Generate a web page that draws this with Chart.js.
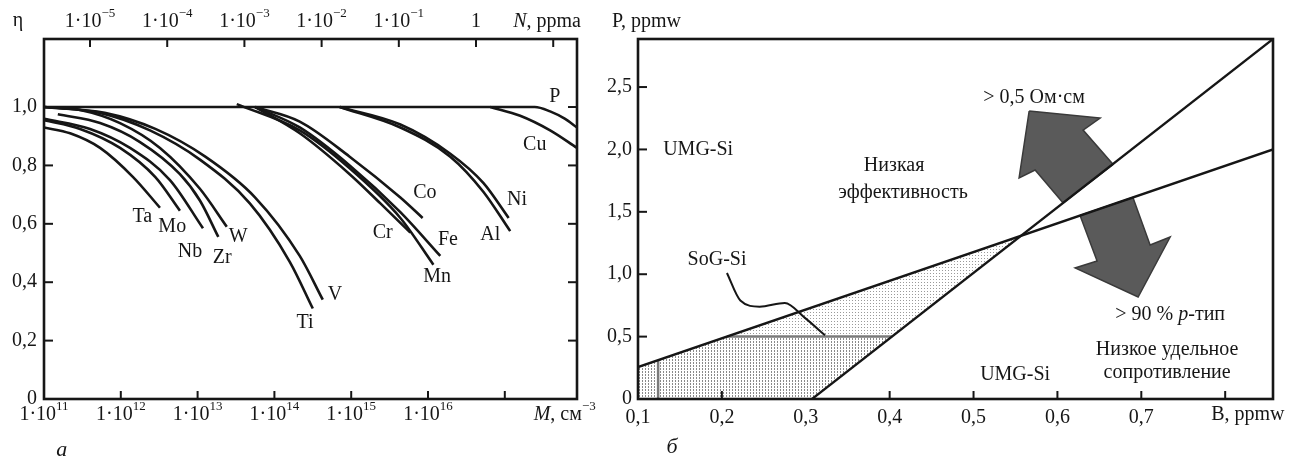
<!DOCTYPE html>
<html><head><meta charset="utf-8">
<script src="https://cdn.jsdelivr.net/npm/chart.js@4/dist/chart.umd.min.js"></script>
<style>
html,body{margin:0;padding:0;background:#fff;width:1309px;height:457px;overflow:hidden;}
#ca{position:absolute;left:0;top:0;}
#cb{position:absolute;left:600px;top:0;}
</style></head><body>
<canvas id="ca" width="620" height="457"></canvas>
<canvas id="cb" width="709" height="457"></canvas>
<script>
const FONT = '"Liberation Serif","DejaVu Serif","Times New Roman",serif';
const INK = '#161616';

// ---------- Panel a : x = log10(M, cm^-3), y = efficiency eta ----------
const mTickExp = [11, 12, 13, 14, 15, 16, 17];
const mTickLabels = ['11', '12', '13', '14', '15', '16', ''];
const nTickExp = [-5, -4, -3, -2, -1, 0, 1];
const nTickLabels = ['−5', '−4', '−3', '−2', '−1', '', ''];
const etaTicks = [0, 0.2, 0.4, 0.6, 0.8, 1.0];

const taLogM = [11.00, 11.34, 11.73, 12.16, 12.51];        const taEta = [0.93, 0.91, 0.86, 0.76, 0.655];
const moLogM = [11.00, 11.47, 11.99, 12.45, 12.77];        const moEta = [0.955, 0.925, 0.86, 0.76, 0.645];
const nbLogM = [11.00, 11.60, 12.12, 12.64, 13.07];        const nbEta = [0.96, 0.925, 0.86, 0.75, 0.585];
const zrLogM = [11.18, 11.73, 12.25, 12.77, 13.03, 13.27]; const zrEta = [0.975, 0.945, 0.88, 0.77, 0.68, 0.555];
const wLogM  = [11.00, 11.47, 11.99, 12.51, 13.03, 13.38]; const wEta  = [1.0, 0.99, 0.945, 0.86, 0.72, 0.59];
const tiLogM = [11.00, 11.73, 12.38, 13.03, 13.68, 14.20, 14.50]; const tiEta = [1.0, 0.98, 0.92, 0.82, 0.67, 0.47, 0.31];
const vLogM  = [11.00, 11.79, 12.45, 13.10, 13.75, 14.33, 14.63]; const vEta  = [1.0, 0.98, 0.925, 0.83, 0.69, 0.49, 0.34];
const coLogM = [13.75, 14.33, 14.98, 15.64, 15.93];        const coEta = [1.0, 0.95, 0.83, 0.69, 0.62];
const feLogM = [13.75, 14.33, 14.98, 15.64, 16.16];        const feEta = [1.0, 0.93, 0.80, 0.64, 0.49];
const mnLogM = [13.51, 14.33, 14.98, 15.64, 16.07];        const mnEta = [1.01, 0.92, 0.79, 0.62, 0.46];
const crLogM = [13.75, 14.33, 14.98, 15.38, 15.77];        const crEta = [1.0, 0.91, 0.77, 0.67, 0.57];
const niLogM = [14.85, 15.64, 16.29, 16.72, 17.05];        const niEta = [1.0, 0.94, 0.84, 0.74, 0.62];
const alLogM = [14.85, 15.64, 16.29, 16.72, 17.07];        const alEta = [1.0, 0.93, 0.83, 0.71, 0.575];
const pLogM  = [11.00, 17.39, 17.59, 17.78, 17.94];        const pEta  = [1.0, 1.0, 0.985, 0.96, 0.93];
const cuLogM = [16.81, 17.20, 17.59, 17.94];               const cuEta = [1.0, 0.97, 0.92, 0.86];

const elemNames = ['Ta', 'Mo', 'Nb', 'Zr', 'W', 'Ti', 'V', 'Co', 'Cr', 'Fe', 'Mn', 'Ni', 'Al', 'P', 'Cu'];
const elemLabelLogM = [12.28, 12.67, 12.90, 13.32, 13.53, 14.40, 14.79, 15.96, 15.41, 16.26, 16.12, 17.16, 16.81, 17.65, 17.39];
const elemLabelEta  = [0.623, 0.589, 0.503, 0.483, 0.555, 0.26, 0.356, 0.705, 0.568, 0.545, 0.418, 0.682, 0.562, 1.034, 0.87];

// ---------- Panel b : x = B, ppmw ; y = P, ppmw ----------
const bTicks = [0.1, 0.2, 0.3, 0.4, 0.5, 0.6, 0.7];
const bMarks = [0.2, 0.4, 0.5, 0.6, 0.7, 0.8];
const pTicks = [0, 0.5, 1.0, 1.5, 2.0, 2.5];
const steepB = [0.3075, 0.857];   const steepP = [0, 2.885];
const shallowB = [0.1, 0.857];    const shallowP = [0.256, 2.0];
const sogUpperB = [0.206, 0.5565, 0.4027, 0.206]; const sogUpperP = [0.5, 1.307, 0.5, 0.5];
const sogLowerB = [0.1, 0.1, 0.206, 0.4027, 0.3075, 0.1]; const sogLowerP = [0, 0.256, 0.5, 0.5, 0, 0];
const limitHB = [0.206, 0.4027];  const limitHP = [0.5, 0.5];
const limitVB = [0.124, 0.124];   const limitVP = [0, 0.311];
const leaderB = [0.206, 0.222, 0.245, 0.275, 0.299, 0.323]; const leaderP = [1.01, 0.79, 0.74, 0.77, 0.65, 0.51];
const arrowUpB = [0.5663, 0.6509, 0.6306, 0.6664, 0.6068, 0.5734, 0.5543, 0.5663];
const arrowUpP = [2.308, 2.252, 2.155, 1.880, 1.571, 1.835, 1.771, 2.308];
const arrowDnB = [0.627, 0.690, 0.7105, 0.7344, 0.6962, 0.6211, 0.6473, 0.627];
const arrowDnP = [1.470, 1.615, 1.234, 1.298, 0.817, 1.050, 1.106, 1.470];

const zip = (xs, ys) => xs.map((x, i) => ({x: x, y: ys[i]}));

function fontFor(s, size) {
  const sz = s.sup ? Math.round(size * 0.65) : size;
  return (s.italic ? 'italic ' : '') + sz + 'px ' + FONT;
}
function drawRich(ctx, segs, x, y, align, size) {
  let total = 0;
  const ws = segs.map(s => { ctx.font = fontFor(s, size); const w = ctx.measureText(s.t).width; total += w; return w; });
  let cx = align === 'center' ? x - total / 2 : (align === 'right' ? x - total : x);
  ctx.textAlign = 'left'; ctx.textBaseline = 'middle';
  segs.forEach((s, i) => {
    ctx.font = fontFor(s, size);
    ctx.fillText(s.t, cx, y + (s.sup ? -size * 0.42 : 0));
    cx += ws[i];
  });
}

const framePlugin = {
  id: 'framePlugin',
  afterDraw(chart, args, opts) {
    const ctx = chart.ctx, a = chart.chartArea;
    ctx.save();
    ctx.strokeStyle = INK; ctx.lineWidth = 2.6; ctx.lineJoin = 'miter';
    ctx.strokeRect(a.left, a.top, a.right - a.left, a.bottom - a.top);
    ctx.lineWidth = 2;
    (opts.marks || []).forEach(m => {
      const s = chart.scales[m.scale];
      m.values.forEach(v => {
        const p = s.getPixelForValue(v);
        ctx.beginPath();
        if (m.side === 'bottom') { ctx.moveTo(p, a.bottom); ctx.lineTo(p, a.bottom - m.len); }
        if (m.side === 'top') { ctx.moveTo(p, a.top); ctx.lineTo(p, a.top + m.len); }
        if (m.side === 'left') { ctx.moveTo(a.left, p); ctx.lineTo(a.left + m.len, p); }
        if (m.side === 'right') { ctx.moveTo(a.right, p); ctx.lineTo(a.right - m.len, p); }
        ctx.stroke();
      });
    });
    ctx.fillStyle = INK;
    (opts.texts || []).forEach(t => {
      const sx = chart.scales[t.sx || 'x'], sy = chart.scales[t.sy || 'y'];
      const x = t.px !== undefined ? t.px : sx.getPixelForValue(t.x);
      const y = t.py !== undefined ? t.py : sy.getPixelForValue(t.y);
      drawRich(ctx, t.segs, x, y, t.align || 'center', t.size || 20);
    });
    if (opts.extra) opts.extra(chart, ctx);
    ctx.restore();
  }
};

// ---------------- Chart a ----------------
const curveSets = [
  [taLogM, taEta], [moLogM, moEta], [nbLogM, nbEta], [zrLogM, zrEta], [wLogM, wEta],
  [tiLogM, tiEta], [vLogM, vEta], [coLogM, coEta], [feLogM, feEta], [mnLogM, mnEta],
  [crLogM, crEta], [niLogM, niEta], [alLogM, alEta], [pLogM, pEta], [cuLogM, cuEta]
];
const dsA = curveSets.map((c, i) => ({
  label: elemNames[i], data: zip(c[0], c[1]), borderColor: INK, borderWidth: 2.6,
  pointRadius: 0, fill: false, cubicInterpolationMode: 'monotone'
}));

const textsA = elemNames.map((n, i) => ({segs: [{t: n}], x: elemLabelLogM[i], y: elemLabelEta[i]}));

new Chart(document.getElementById('ca'), {
  type: 'line',
  data: {datasets: dsA},
  options: {
    responsive: false, animation: false, devicePixelRatio: 1,
    layout: {padding: {left: 0, right: 43, top: 0, bottom: 0}},
    plugins: {
      legend: {display: false}, tooltip: {enabled: false},
      framePlugin: {
        marks: [
          {scale: 'x', side: 'bottom', values: mTickExp.slice(1), len: 8},
          {scale: 'x2', side: 'top', values: nTickExp, len: 8},
          {scale: 'y', side: 'left', values: etaTicks.slice(1), len: 9},
          {scale: 'y', side: 'right', values: etaTicks.slice(1), len: 9}
        ],
        texts: textsA,
        extra: (chart, ctx) => {
          const a = chart.chartArea, sx = chart.scales.x, sx2 = chart.scales.x2;
          mTickExp.forEach((e, i) => {
            if (mTickLabels[i]) drawRich(ctx, [{t: '1·10'}, {t: mTickLabels[i], sup: true}], sx.getPixelForValue(e), a.bottom + 16, 'center', 20);
          });
          nTickExp.forEach((e, i) => {
            if (nTickLabels[i]) drawRich(ctx, [{t: '1·10'}, {t: nTickLabels[i], sup: true}], sx2.getPixelForValue(e), a.top - 17, 'center', 20);
            else if (e === 0) drawRich(ctx, [{t: '1'}], sx2.getPixelForValue(e), a.top - 17, 'center', 20);
          });
          drawRich(ctx, [{t: 'N', italic: true}, {t: ', ppma'}], sx2.getPixelForValue(0.92), a.top - 17, 'center', 20);
          drawRich(ctx, [{t: 'M', italic: true}, {t: ', см'}, {t: '−3', sup: true}], sx.getPixelForValue(17.78), a.bottom + 16, 'center', 20);
          drawRich(ctx, [{t: 'η'}], a.left - 26, a.top - 18, 'center', 20);
          drawRich(ctx, [{t: 'а', italic: true}], sx.getPixelForValue(11.23), a.bottom + 51, 'center', 22);
        }
      }
    },
    scales: {
      x: {type: 'linear', position: 'bottom', min: 11, max: 17.94,
          grid: {display: false}, border: {display: false}, ticks: {display: false},
          afterFit: s => { s.height = 58; }},
      x2: {type: 'linear', position: 'top', min: -5.596, max: 1.308,
          grid: {display: false}, border: {display: false}, ticks: {display: false},
          afterFit: s => { s.height = 39; }},
      y: {type: 'linear', position: 'left', min: 0, max: 1.233,
          grid: {display: false, drawTicks: false}, border: {display: false},
          afterBuildTicks: s => { s.ticks = etaTicks.map(v => ({value: v})); },
          ticks: {padding: 7, color: INK, font: {family: FONT, size: 20},
                  callback: v => v === 0 ? '0' : v.toFixed(1).replace('.', ',')},
          afterFit: s => { s.width = 44; }}
    }
  },
  plugins: [framePlugin]
});

// ---------------- Chart b ----------------
const tmp = document.createElement('canvas').getContext('2d');
const patUpper = (() => { const c = document.createElement('canvas'); c.width = 3; c.height = 3; const x = c.getContext('2d'); x.fillStyle = '#9a9a9a'; x.fillRect(0,0,1,1); return tmp.createPattern(c, 'repeat'); })();
const patLower = (() => { const c = document.createElement('canvas'); c.width = 3; c.height = 3; const x = c.getContext('2d'); x.fillStyle = '#8a8a8a'; x.fillRect(0,0,1,1); x.fillRect(0,2,1,1); return tmp.createPattern(c, 'repeat'); })();

const dsB = [
  {data: zip(sogLowerB, sogLowerP), fill: 'shape', backgroundColor: patLower, borderWidth: 0, borderColor: 'rgba(0,0,0,0)', pointRadius: 0, tension: 0, order: 10},
  {data: zip(sogUpperB, sogUpperP), fill: 'shape', backgroundColor: patUpper, borderWidth: 0, borderColor: 'rgba(0,0,0,0)', pointRadius: 0, tension: 0, order: 10},
  {data: zip(arrowUpB, arrowUpP), fill: 'shape', backgroundColor: '#5a5a5a', borderColor: '#3a3a3a', borderWidth: 1.5, pointRadius: 0, tension: 0, order: 9},
  {data: zip(arrowDnB, arrowDnP), fill: 'shape', backgroundColor: '#5a5a5a', borderColor: '#3a3a3a', borderWidth: 1.5, pointRadius: 0, tension: 0, order: 9},
  {data: zip(limitHB, limitHP), borderColor: '#7a7a7a', borderWidth: 2.5, pointRadius: 0, fill: false, order: 5},
  {data: zip(limitVB, limitVP), borderColor: '#7a7a7a', borderWidth: 2.5, pointRadius: 0, fill: false, order: 5},
  {data: zip(steepB, steepP), borderColor: INK, borderWidth: 2.3, pointRadius: 0, fill: false, order: 1},
  {data: zip(shallowB, shallowP), borderColor: INK, borderWidth: 2.3, pointRadius: 0, fill: false, order: 1},
  {data: zip(leaderB, leaderP), borderColor: INK, borderWidth: 2, pointRadius: 0, fill: false, cubicInterpolationMode: 'monotone', order: 1}
];

const textsB = [
  {segs: [{t: 'UMG-Si'}], x: 0.130, y: 2.0, align: 'left'},
  {segs: [{t: 'Низкая'}], x: 0.4053, y: 1.867},
  {segs: [{t: 'эффективность'}], x: 0.416, y: 1.651},
  {segs: [{t: '> 0,5 Ом·см'}], x: 0.5722, y: 2.412},
  {segs: [{t: 'SoG-Si'}], x: 0.1942, y: 1.114},
  {segs: [{t: '> 90 % '}, {t: 'p', italic: true}, {t: '-тип'}], x: 0.7344, y: 0.673},
  {segs: [{t: 'Низкое удельное'}], x: 0.7308, y: 0.393},
  {segs: [{t: 'сопротивление'}], x: 0.7308, y: 0.208},
  {segs: [{t: 'UMG-Si'}], x: 0.5496, y: 0.192}
];

new Chart(document.getElementById('cb'), {
  type: 'line',
  data: {datasets: dsB},
  options: {
    responsive: false, animation: false, devicePixelRatio: 1,
    layout: {padding: {left: 0, right: 36, top: 39, bottom: 0}},
    plugins: {
      legend: {display: false}, tooltip: {enabled: false},
      framePlugin: {
        marks: [
          {scale: 'x', side: 'bottom', values: bMarks, len: 8},
          {scale: 'y', side: 'left', values: pTicks.slice(1), len: 9}
        ],
        texts: textsB,
        extra: (chart, ctx) => {
          const a = chart.chartArea, sx = chart.scales.x;
          drawRich(ctx, [{t: 'P, ppmw'}], a.left - 26, a.top - 17, 'left', 20);
          drawRich(ctx, [{t: 'B, ppmw'}], sx.getPixelForValue(0.827), a.bottom + 16, 'center', 20);
          drawRich(ctx, [{t: 'б', italic: true}], sx.getPixelForValue(0.1405), a.bottom + 48, 'center', 22);
        }
      }
    },
    scales: {
      x: {type: 'linear', position: 'bottom', min: 0.1, max: 0.857,
          grid: {display: false, drawTicks: false}, border: {display: false},
          afterBuildTicks: s => { s.ticks = bTicks.map(v => ({value: v})); },
          ticks: {padding: 7, color: INK, maxRotation: 0, autoSkip: false, font: {family: FONT, size: 20},
                  callback: v => v.toFixed(1).replace('.', ',')},
          afterFit: s => { s.height = 58; }},
      y: {type: 'linear', position: 'left', min: 0, max: 2.885,
          grid: {display: false, drawTicks: false}, border: {display: false},
          afterBuildTicks: s => { s.ticks = pTicks.map(v => ({value: v})); },
          ticks: {padding: 6, color: INK, font: {family: FONT, size: 20},
                  callback: v => v === 0 ? '0' : v.toFixed(1).replace('.', ',')},
          afterFit: s => { s.width = 38; }}
    }
  },
  plugins: [framePlugin]
});
</script>
</body></html>
